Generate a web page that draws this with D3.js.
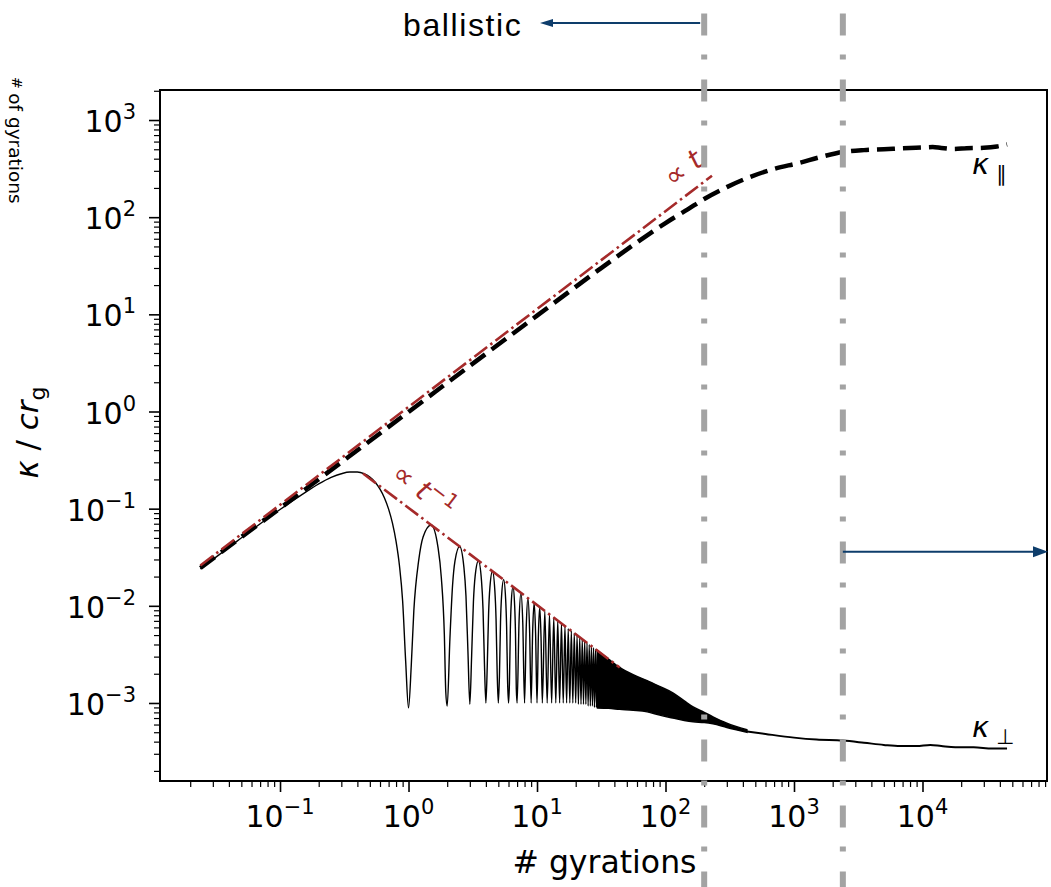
<!DOCTYPE html>
<html><head><meta charset="utf-8">
<script src="https://cdn.jsdelivr.net/npm/d3@7"></script>
<style>html,body{margin:0;padding:0;background:#fff;} svg{display:block;}</style>
</head><body>
<svg id="chart" width="1051" height="887"></svg>
<script>
// ---------------- data ----------------
const xTickExponents = [-1, 0, 1, 2, 3, 4];
const yTickExponents = [-3, -2, -1, 0, 1, 2, 3];

// kappa parallel (dashed)
const kappaParT = [0.024, 0.05, 0.1, 0.3, 1, 3, 10, 30, 60, 100, 150, 200, 300, 450, 700, 1100, 1600, 2400, 3500, 5000, 7000, 10000, 12000, 14000, 17500, 22000, 30000, 38000, 45500];
const kappaParK = [0.0245, 0.051, 0.101, 0.3, 0.99, 2.95, 9.7, 28.5, 55, 87, 121, 154, 204, 258, 314, 362, 415, 468, 490, 500, 512, 522, 527, 515, 503, 512, 518, 535, 562];

// kappa perpendicular (thin, oscillating part)
const kappaPerpT = [
  0.024, 0.04, 0.06, 0.1, 0.15, 0.2, 0.25, 0.3, 0.35, 0.4, 0.45, 0.5, 0.55, 0.6, 0.65, 0.7, 0.75, 0.8, 0.85, 0.9, 0.95,
  1.0, 1.05, 1.1, 1.2, 1.3, 1.5, 1.7, 1.8, 1.9, 1.95,
  2.0, 2.1, 2.2, 2.3, 2.5, 2.7, 2.8, 2.9,
  3.0, 3.1, 3.2, 3.3, 3.5, 3.7, 3.8, 3.9,
  4.0, 4.1, 4.2, 4.3, 4.5, 4.7, 4.8, 4.9,
  5.0, 5.1, 5.2, 5.3, 5.5, 5.7, 5.8, 5.9,
  6.0, 6.1, 6.2, 6.3, 6.5, 6.7, 6.8, 6.9,
  7.0, 7.25, 7.5, 7.75,
  8.0, 8.25, 8.5, 8.75,
  9.0, 9.25, 9.5, 9.75,
  10.0, 10.25, 10.5, 10.75,
  11, 11.5, 12, 12.5, 13, 13.5, 14, 14.5, 15, 15.5, 16, 16.5, 17, 17.5, 18, 18.5, 19, 19.5, 20, 20.5,
  21, 21.5, 22, 22.5, 23, 23.5, 24, 24.5, 25, 25.5, 26, 26.5, 27, 27.5, 28, 28.5, 29, 29.5, 30
];
const kappaPerpK = [
  0.024, 0.040, 0.060, 0.098, 0.141, 0.180, 0.210, 0.229, 0.238, 0.238, 0.229, 0.211, 0.187, 0.159, 0.129, 0.099, 0.071, 0.046, 0.026, 0.0112, 0.0027,
  0.00089, 0.0024, 0.0089, 0.0293, 0.0514, 0.068, 0.0393, 0.0196, 0.0051, 0.0013,
  0.00093, 0.0046, 0.016, 0.029, 0.0408, 0.0247, 0.0126, 0.0034,
  0.00097, 0.0031, 0.011, 0.0202, 0.0291, 0.018, 0.0093, 0.0025,
  0.001, 0.0024, 0.0084, 0.0155, 0.0227, 0.0142, 0.0073, 0.002,
  0.001, 0.0019, 0.0068, 0.0126, 0.0186, 0.0117, 0.0061, 0.0017,
  0.001, 0.0016, 0.0057, 0.0106, 0.0157, 0.010, 0.0052, 0.0014,
  0.001, 0.0070, 0.0136, 0.0066,
  0.001, 0.0062, 0.0120, 0.0058,
  0.001, 0.0055, 0.0107, 0.0052,
  0.001, 0.0050, 0.0097, 0.0047,
  0.001, 0.00887, 0.001, 0.00816, 0.001, 0.00756, 0.001, 0.00703, 0.001, 0.00658, 0.001, 0.00618, 0.001, 0.00583, 0.001, 0.00551, 0.001, 0.00523, 0.001, 0.00498,
  0.00097, 0.00474, 0.00097, 0.00453, 0.00097, 0.00434, 0.00097, 0.00416, 0.00093, 0.0040, 0.00093, 0.00385, 0.00093, 0.00371, 0.0009, 0.00358, 0.0009, 0.00346, 0.00089
];
// kappa perpendicular: unresolved dense oscillations (envelopes)
const kappaPerpBandT     = [29.5, 36, 44, 56, 72, 90, 114, 140, 164, 200, 234, 300, 430];
const kappaPerpBandUpper = [0.00346, 0.00283, 0.00232, 0.00195, 0.0017, 0.00148, 0.00127, 0.00105, 0.00091, 0.0008, 0.00072, 0.00062, 0.00053];
const kappaPerpBandLower = [0.00089, 0.00088, 0.00086, 0.00084, 0.00081, 0.00075, 0.0007, 0.00066, 0.00064, 0.00063, 0.00061, 0.00056, 0.0005];
// kappa perpendicular: late-time tail
const kappaPerpTailT = [430, 600, 1000, 1500, 2400, 3500, 5000, 6700, 9000, 11500, 14000, 18000, 25000, 35000, 45500];
const kappaPerpTailK = [0.00051, 0.00048, 0.00044, 0.00042, 0.00041, 0.00039, 0.00037, 0.00036, 0.00036, 0.00037, 0.00036, 0.00035, 0.00035, 0.00034, 0.00034];

// guide lines  (∝ t and ∝ t^-1)
const fitLinearT  = [0.024, 230];
const fitLinearK  = [0.026, 267];
const fitInverseT = [0.443, 44];
const fitInverseK = [0.230, 0.00232];

// regime boundaries (# gyrations) and annotation levels
const regimeBoundaries = [200, 2400];
const arrowRightK = 0.036;
const labelTexts = { xLabel: "# gyrations", ballistic: "ballistic", side: "# of gyrations" };

// ---------------- layout ----------------
const W = 1051, H = 887;
const P = { left: 160, right: 1047, top: 90, bottom: 781 };
const FONT = "'DejaVu Sans', sans-serif";
const RED = "#a52a2a", NAVY = "#0e3d6b", GRAY = "#a3a3a3";

const svg = d3.select("#chart");
svg.append("rect").attr("width", W).attr("height", H).attr("fill", "#fff");

const x = d3.scaleLog().domain([0.01164, 93100]).range([P.left, P.right]);
const y = d3.scaleLog().domain([1.574e-4, 2037]).range([P.bottom, P.top]);

svg.append("clipPath").attr("id", "clip").append("rect")
  .attr("x", P.left).attr("y", P.top).attr("width", P.right - P.left).attr("height", P.bottom - P.top);
const plotG = svg.append("g").attr("clip-path", "url(#clip)");

// ---------------- axes ----------------
const xMajor = xTickExponents.map(e => Math.pow(10, e));
const yMajor = yTickExponents.map(e => Math.pow(10, e));
function minors(scale) {
  const [a, b] = scale.domain();
  const out = [];
  for (let k = Math.floor(Math.log10(a)); k <= Math.ceil(Math.log10(b)); k++)
    for (let m = 2; m <= 9; m++) { const v = m * Math.pow(10, k); if (v >= a && v <= b) out.push(v); }
  return out;
}
const axG = svg.append("g");
function styleAxis(w) { return g => { g.select(".domain").remove(); g.selectAll("line").attr("stroke", "#000").attr("stroke-width", w); }; }
axG.append("g").attr("transform", `translate(0,${P.bottom})`)
  .call(d3.axisBottom(x).tickValues(xMajor).tickSize(11).tickFormat("")).call(styleAxis(1.6));
axG.append("g").attr("transform", `translate(0,${P.bottom})`)
  .call(d3.axisBottom(x).tickValues(minors(x)).tickSize(6).tickFormat("")).call(styleAxis(1.2));
axG.append("g").attr("transform", `translate(${P.left},0)`)
  .call(d3.axisLeft(y).tickValues(yMajor).tickSize(11).tickFormat("")).call(styleAxis(1.6));
axG.append("g").attr("transform", `translate(${P.left},0)`)
  .call(d3.axisLeft(y).tickValues(minors(y)).tickSize(6).tickFormat("")).call(styleAxis(1.2));

function powLabel(px, py, exp, anchor) {
  const t = svg.append("text").attr("x", px).attr("y", py).attr("text-anchor", anchor)
    .attr("font-family", FONT).attr("font-size", 30).attr("fill", "#000");
  t.append("tspan").text("10");
  t.append("tspan").attr("dy", -13).attr("font-size", 21).text(exp < 0 ? "\u2212" + (-exp) : String(exp));
}
xTickExponents.forEach((e, i) => powLabel(x(xMajor[i]), 827, e, "middle"));
yTickExponents.forEach((e, i) => powLabel(136, y(yMajor[i]) + 12, e, "end"));

// x label
svg.append("text").attr("x", (P.left + P.right) / 2 + 1).attr("y", 873).attr("text-anchor", "middle")
  .attr("font-family", FONT).attr("font-size", 31.5).text(labelTexts.xLabel);
// y label
const yl = svg.append("text").attr("transform", `translate(38,${(P.top + P.bottom) / 2 - 3}) rotate(-90)`)
  .attr("text-anchor", "middle").attr("font-family", FONT).attr("font-size", 31);
yl.append("tspan").attr("font-style", "italic").text("\u03BA");
yl.append("tspan").text(" / ");
yl.append("tspan").attr("font-style", "italic").text("cr");
yl.append("tspan").attr("font-size", 22).attr("dy", 7).text("g");

// side label (rotated, top-left)
const sl = svg.append("text").attr("transform", "translate(9,77) rotate(90)")
  .attr("font-family", FONT).attr("font-size", 18.5);
sl.append("tspan").attr("font-size", 14).attr("dy", -3).text("# ");
sl.append("tspan").attr("dy", 3).text(labelTexts.side.slice(2));

// ---------------- data marks ----------------
const perpPts = kappaPerpT.map((t, i) => [t, kappaPerpK[i]]);
const tailPts = kappaPerpTailT.map((t, i) => [t, kappaPerpTailK[i]]);
const parPts = kappaParT.map((t, i) => [t, kappaParK[i]]);
const lineGen = d3.line().x(d => x(d[0])).y(d => y(d[1])).curve(d3.curveMonotoneX);

plotG.append("path").attr("d", lineGen(perpPts)).attr("fill", "none").attr("stroke", "#000").attr("stroke-width", 1.4);
plotG.append("path")
  .attr("d", d3.area().x(d => x(d)).y0((d, i) => y(kappaPerpBandLower[i])).y1((d, i) => y(kappaPerpBandUpper[i])).curve(d3.curveMonotoneX)(kappaPerpBandT))
  .attr("fill", "#000").attr("stroke", "#000").attr("stroke-width", 1.5);
plotG.append("path").attr("d", lineGen(tailPts)).attr("fill", "none").attr("stroke", "#000").attr("stroke-width", 2);

plotG.append("path").attr("d", lineGen(parPts)).attr("fill", "none").attr("stroke", "#000")
  .attr("stroke-width", 4.5).attr("stroke-dasharray", "18,8");

const straight = d3.line().x(d => x(d[0])).y(d => y(d[1]));
plotG.append("path").attr("d", straight(fitLinearT.map((t, i) => [t, fitLinearK[i]])))
  .attr("fill", "none").attr("stroke", RED).attr("stroke-width", 2.6).attr("stroke-dasharray", "16,4,2.5,4");
plotG.append("path").attr("d", straight(fitInverseT.map((t, i) => [t, fitInverseK[i]])))
  .attr("fill", "none").attr("stroke", RED).attr("stroke-width", 2.6).attr("stroke-dasharray", "16,4,2.5,4");

// guide-line labels
const slopeAngle = Math.atan2(y(10) - y(100), x(100) - x(10)) * 180 / Math.PI; // ~37 deg
const l1 = svg.append("text").attr("transform", `translate(689,176) rotate(${-slopeAngle})`)
  .attr("text-anchor", "middle").attr("font-family", FONT).attr("font-size", 28).attr("fill", RED);
l1.append("tspan").text("\u221D ");
l1.append("tspan").attr("font-style", "italic").text("t");
const l2 = svg.append("text").attr("transform", `translate(418,498) rotate(${slopeAngle})`)
  .attr("text-anchor", "middle").attr("font-family", FONT).attr("font-size", 28).attr("fill", RED);
l2.append("tspan").text("\u221D ");
l2.append("tspan").attr("font-style", "italic").text("t");
l2.append("tspan").attr("dy", -11).attr("font-size", 20).text("\u22121");

// curve labels
function kappaLabel(px, py, sub) {
  const t = svg.append("text").attr("x", px).attr("y", py).attr("font-family", FONT).attr("font-size", 29);
  t.append("tspan").attr("font-style", "italic").text("\u03BA");
  t.append("tspan").attr("dx", 7).attr("dy", 7).attr("font-size", 21).text(sub);
}
kappaLabel(972, 174, "\u2225");
kappaLabel(972, 737, "\u22A5");

// frame
svg.append("rect").attr("x", P.left).attr("y", P.top).attr("width", P.right - P.left).attr("height", P.bottom - P.top)
  .attr("fill", "none").attr("stroke", "#000").attr("stroke-width", 2);

// regime boundaries (span the whole figure)
regimeBoundaries.forEach(b => {
  svg.append("line").attr("x1", x(b)).attr("x2", x(b)).attr("y1", 0).attr("y2", H)
    .attr("stroke", GRAY).attr("stroke-width", 6).attr("stroke-dasharray", "22,19,5,20").attr("stroke-dashoffset", 52.5);
});

// arrows
function arrow(x1, x2, yy, headLen, headHalf) {
  const dir = Math.sign(x2 - x1);
  svg.append("line").attr("x1", x1).attr("x2", x2 - dir * headLen * 0.8).attr("y1", yy).attr("y2", yy)
    .attr("stroke", NAVY).attr("stroke-width", 2.2);
  svg.append("path").attr("d", `M${x2},${yy} L${x2 - dir * headLen},${yy - headHalf} L${x2 - dir * headLen},${yy + headHalf} Z`)
    .attr("fill", NAVY);
}
arrow(x(regimeBoundaries[0]) - 4, 540, 23, 13, 4);
arrow(x(regimeBoundaries[1]), P.right + 1, y(arrowRightK), 15, 5.5);

svg.append("text").attr("x", 403).attr("y", 36).attr("font-family", "'Liberation Sans', Arial, sans-serif")
  .attr("font-size", 32).attr("letter-spacing", 1.6).attr("fill", "#000").text(labelTexts.ballistic);
</script>
</body></html>
